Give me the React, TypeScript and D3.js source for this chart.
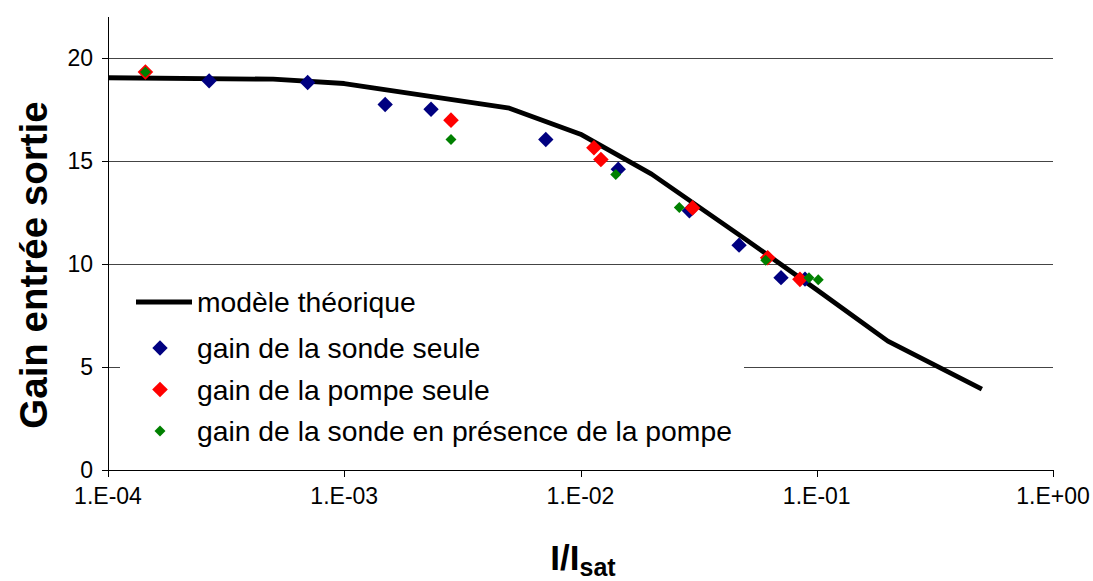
import * as d3 from "d3";

const WIDTH = 1093;
const HEIGHT = 581;

// theoretical model (black line)
const modelX = [1e-4, 5e-4, 1e-3, 5e-3, 1e-2, 2e-2, 5e-2, 1e-1, 2e-1, 5e-1];
const modelY = [19.05, 18.98, 18.77, 17.57, 16.31, 14.37, 11.2, 8.75, 6.26, 3.93];

// gain de la sonde seule
const sondeX = [2.68e-4, 7.0e-4, 1.49e-3, 2.33e-3, 7.13e-3, 1.445e-2, 2.89e-2, 4.69e-2, 7.06e-2, 8.92e-2];
const sondeY = [18.9, 18.82, 17.75, 17.52, 16.05, 14.61, 12.59, 10.92, 9.34, 9.27];

// gain de la pompe seule
const pompeX = [1.44e-4, 2.83e-3, 1.14e-2, 1.22e-2, 2.98e-2, 6.2e-2, 8.49e-2];
const pompeY = [19.33, 16.99, 15.65, 15.08, 12.73, 10.31, 9.26];

// gain de la sonde en présence de la pompe
const presX = [1.44e-4, 2.83e-3, 1.41e-2, 2.62e-2, 6.08e-2, 9.27e-2, 1.015e-1];
const presY = [19.33, 16.05, 14.35, 12.75, 10.19, 9.34, 9.24];

const xTicks = [1e-4, 1e-3, 1e-2, 1e-1, 1];
const xTickLabels = ["1.E-04", "1.E-03", "1.E-02", "1.E-01", "1.E+00"];
const yTicks = [0, 5, 10, 15, 20];

const legendLabels = [
  "modèle théorique",
  "gain de la sonde seule",
  "gain de la pompe seule",
  "gain de la sonde en présence de la pompe",
];

const FONT = "'Liberation Sans', Arial, sans-serif";

const diamond = (size: number) =>
  d3.symbol().type(d3.symbolSquare).size(size)() as string;

export default function App() {
  const xScale = d3.scaleLog().domain([1e-4, 1]).range([108, 1053]);
  const yScale = d3.scaleLinear().domain([0, 22]).range([470, 17]);

  const line = d3
    .line<number>()
    .x((d) => xScale(d))
    .y((_, i) => yScale(modelY[i]));

  const series = [
    { xs: sondeX, ys: sondeY, color: "#000080", size: 118 },
    { xs: pompeX, ys: pompeY, color: "#ff0000", size: 122 },
    { xs: presX, ys: presY, color: "#008000", size: 60 },
  ];

  const [x0, x1] = xScale.range();
  const [y0, y1] = yScale.range();

  return (
    <div style={{ position: "absolute", left: 0, top: 0 }}>
      <svg width={WIDTH} height={HEIGHT} style={{ display: "block", background: "#fff" }}>
        {/* gridlines */}
        {yTicks.filter((t) => t > 0).map((t) => (
          <line key={t} x1={x0} x2={x1} y1={Math.round(yScale(t)) + 0.5} y2={Math.round(yScale(t)) + 0.5}
            stroke="#444" strokeWidth={1} />
        ))}

        {/* axes */}
        <line x1={x0 + 0.5} x2={x0 + 0.5} y1={y1} y2={y0} stroke="#000" />
        <line x1={x0} x2={x1} y1={y0 + 0.5} y2={y0 + 0.5} stroke="#000" />
        {yTicks.map((t) => (
          <g key={t}>
            <line x1={x0 - 6} x2={x0} y1={Math.round(yScale(t)) + 0.5} y2={Math.round(yScale(t)) + 0.5} stroke="#000" />
            <text x={93} y={yScale(t) + 8} textAnchor="end" fontFamily={FONT} fontSize={23}>{t}</text>
          </g>
        ))}
        {xTicks.map((t, i) => (
          <g key={t}>
            <line x1={Math.round(xScale(t)) + 0.5} x2={Math.round(xScale(t)) + 0.5} y1={y0} y2={y0 + 7} stroke="#000" />
            <text x={xScale(t)} y={504} textAnchor="middle" fontFamily={FONT} fontSize={23}>{xTickLabels[i]}</text>
          </g>
        ))}

        {/* model line */}
        <path d={line(modelX) ?? ""} fill="none" stroke="#000" strokeWidth={4.8} strokeLinejoin="round" />

        {/* markers */}
        {series.map((s, si) =>
          s.xs.map((x, i) => (
            <path key={`${si}-${i}`} d={diamond(s.size)} fill={s.color}
              transform={`translate(${xScale(x)},${yScale(s.ys[i])}) rotate(45)`} />
          ))
        )}

        {/* legend */}
        <rect x={120} y={272} width={624} height={188} fill="#fff" />
        <line x1={136} x2={192} y1={302} y2={302} stroke="#000" strokeWidth={4.8} />
        {series.map((s, si) => (
          <path key={si} d={diamond(s.size)} fill={s.color}
            transform={`translate(160,${348 + si * 41.5}) rotate(45)`} />
        ))}
        {legendLabels.map((l, i) => (
          <text key={l} x={197} y={312 + (i === 0 ? 0 : 46 + (i - 1) * 41.5)} fontFamily={FONT} fontSize={28.3}>{l}</text>
        ))}

        {/* axis titles */}
        <text transform="translate(47,265) rotate(-90)" textAnchor="middle" fontFamily={FONT}
          fontWeight="bold" fontSize={38.5}>Gain entrée sortie</text>
        <text x={583} y={570} textAnchor="middle" fontFamily={FONT} fontWeight="bold" fontSize={35}>
          I/I<tspan fontSize={25} dy={6}>sat</tspan>
        </text>
      </svg>
    </div>
  );
}
